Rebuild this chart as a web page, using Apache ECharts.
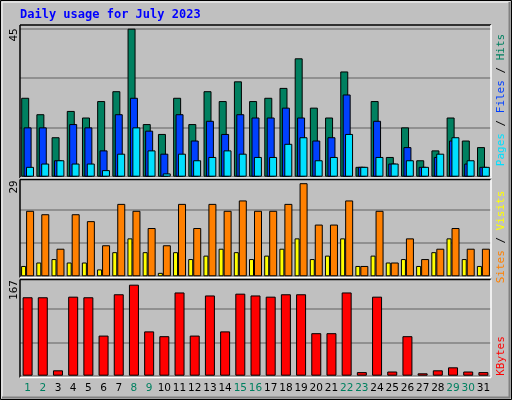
<!DOCTYPE html>
<html><head><meta charset="utf-8">
<script src="https://cdn.jsdelivr.net/npm/echarts@6/dist/echarts.min.js"></script>
<style>html,body{margin:0;padding:0;background:#c0c0c0}#c{width:512px;height:400px}</style>
</head><body><div id="c"></div>
<script>
const days = Array.from({length:31},(_,i)=>String(i+1));
const weekend = [1,2,8,9,15,16,22,23,29,30];
const hits  = [24,19,12,20,18,23,26,45,16,13,24,16,26,23,29,23,24,27,36,21,18,32,3,23,6,15,5,8,18,11,9];
const files = [15,15,5,16,15,8,19,24,14,7,19,11,17,13,19,18,18,21,18,11,12,25,3,17,4,9,3,6,11,4,3];
const pages = [3,4,5,4,4,2,7,15,8,1,7,5,6,8,7,6,6,10,12,5,6,13,3,6,4,5,3,7,12,5,3];
const sites = [3,4,5,4,4,2,7,11,7,1,7,5,6,8,7,5,6,8,11,5,6,11,3,6,4,5,3,7,11,5,3];
const visits= [19,18,8,18,16,9,21,19,14,9,21,14,21,19,22,19,19,21,27,15,15,22,3,19,4,11,5,8,14,8,8];
const kbytes= [131,131,9,132,131,67,136,152,74,66,139,67,134,74,137,134,132,136,136,71,71,139,6,132,7,66,4,9,14,7,6];
const maxLabels = ['45','29','167'];

const chart = echarts.init(document.getElementById('c'), null, {renderer:'canvas'});
const L=20, W=471;
const grids=[{left:L,width:W,top:28.7,height:148},{left:L,width:W,top:176.3,height:100},{left:L,width:W,top:275.7,height:100}];
const ymax=[45,29,167];
function xa(i){return {type:'category',data:days,gridIndex:i,axisLine:{show:false},axisTick:{show:false},
  axisLabel:{show:i===2,interval:0,margin:7,fontFamily:'DejaVu Sans',fontSize:10.5,
   formatter:v=>weekend.includes(+v)?'{w|'+v+'}':'{n|'+v+'}',
   rich:{w:{color:'#008060',fontFamily:'DejaVu Sans',fontSize:10.5},n:{color:'#000',fontFamily:'DejaVu Sans',fontSize:10.5}}}};}
function ya(i){return {type:'value',gridIndex:i,min:0,max:ymax[i],interval:ymax[i]/3,axisLabel:{show:false},axisLine:{show:false},axisTick:{show:false},splitLine:{lineStyle:{color:'#808080',width:1.5}}};}
const bs={borderColor:'#000',borderWidth:1};
function frame(x1,y1,x2,y2){return [
 {type:'line',shape:{x1:x1,y1:y1,x2:x2,y2:y1},style:{stroke:'#000',lineWidth:1.5},z:10},
 {type:'line',shape:{x1:x1,y1:y1,x2:x1,y2:y2},style:{stroke:'#000',lineWidth:1.5},z:10},
 {type:'line',shape:{x1:x1,y1:y2,x2:x2,y2:y2},style:{stroke:'#fff',lineWidth:1.5},z:10},
 {type:'line',shape:{x1:x2,y1:y1,x2:x2,y2:y2},style:{stroke:'#fff',lineWidth:1.5},z:10}];}
const mono='DejaVu Sans Mono';
function vtext(x,y,text){return {type:'text',x:x,y:y,rotation:Math.PI/2,style:{text:text,font:'11px '+mono,align:'center',verticalAlign:'middle'},z:10};}
chart.setOption({
 backgroundColor:'#c0c0c0',animation:false,
 grid:grids,
 xAxis:[xa(0),xa(1),xa(2)],
 yAxis:[ya(0),ya(1),ya(2)],
 series:[
  {type:'bar',xAxisIndex:0,yAxisIndex:0,data:hits,barWidth:8,barGap:'-70%',itemStyle:Object.assign({color:'#008060'},bs)},
  {type:'bar',xAxisIndex:0,yAxisIndex:0,data:files,barWidth:8,barGap:'-70%',itemStyle:Object.assign({color:'#0040ff'},bs)},
  {type:'bar',xAxisIndex:0,yAxisIndex:0,data:pages,barWidth:8,barGap:'-70%',itemStyle:Object.assign({color:'#00e0ff'},bs)},
  {type:'bar',xAxisIndex:1,yAxisIndex:1,data:sites,barWidth:5,barGap:'0%',itemStyle:Object.assign({color:'#ffff00'},bs)},
  {type:'bar',xAxisIndex:1,yAxisIndex:1,data:visits,barWidth:8,barGap:'0%',itemStyle:Object.assign({color:'#ff8000'},bs)},
  {type:'bar',xAxisIndex:2,yAxisIndex:2,data:kbytes,barWidth:10,itemStyle:Object.assign({color:'#ff0000'},bs)}
 ],
 graphic:[
  {type:'rect',shape:{x:0.5,y:0.5,width:511,height:399},style:{fill:null,stroke:'#000',lineWidth:1},z:10},
  {type:'line',shape:{x1:2,y1:2,x2:510,y2:2},style:{stroke:'#fff',lineWidth:1},z:10},
  {type:'line',shape:{x1:2,y1:2,x2:2,y2:398},style:{stroke:'#fff',lineWidth:1},z:10},
  {type:'line',shape:{x1:2,y1:397.5,x2:510,y2:397.5},style:{stroke:'#808080',lineWidth:2},z:10},
  {type:'line',shape:{x1:509.5,y1:2,x2:509.5,y2:398},style:{stroke:'#808080',lineWidth:2},z:10},
  {type:'text',x:20,y:15,style:{text:'Daily usage for July 2023',font:'bold 12px '+mono,fill:'#0000ff',verticalAlign:'middle'},z:10},
  ...frame(20,25,491,178),...frame(20,179.5,491,277.5),...frame(20,279.5,491,377.5),
  vtext(14,35,maxLabels[0]),vtext(14,187,maxLabels[1]),vtext(14,290,maxLabels[2]),
  {type:'text',x:501,y:100,rotation:Math.PI/2,style:{text:'{p|Pages} {s|/} {f|Files} {s|/} {h|Hits}',align:'center',verticalAlign:'middle',font:'11px '+mono,
    rich:{p:{fill:'#00e0ff',font:'11px '+mono},f:{fill:'#0040ff',font:'11px '+mono},h:{fill:'#008060',font:'11px '+mono},s:{fill:'#000',font:'11px '+mono}}},z:10},
  {type:'text',x:501,y:237,rotation:Math.PI/2,style:{text:'{a|Sites} {s|/} {b|Visits}',align:'center',verticalAlign:'middle',font:'11px '+mono,
    rich:{a:{fill:'#ff8000',font:'11px '+mono},b:{fill:'#ffff00',font:'11px '+mono},s:{fill:'#000',font:'11px '+mono}}},z:10},
  {type:'text',x:501,y:356,rotation:Math.PI/2,style:{text:'KBytes',fill:'#ff0000',align:'center',verticalAlign:'middle',font:'11px '+mono},z:10}
 ]
});
</script></body></html>
